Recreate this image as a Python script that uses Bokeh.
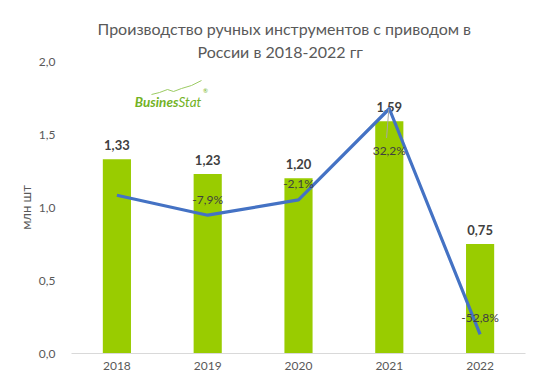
from bokeh.plotting import figure
from bokeh.models import Range1d, FixedTicker, Title, ColumnDataSource
from bokeh.core.properties import value
from bokeh.embed import file_html
from bokeh.resources import INLINE

# ---- data ----
years = ["2018", "2019", "2020", "2021", "2022"]
production = [1.33, 1.23, 1.20, 1.59, 0.75]          # млн шт
growth_pct = [-0.4, -7.9, -2.1, 32.2, -52.8]         # % к предыдущему году
growth_shown = [False, True, True, True, True]
y_ticks = [0.0, 0.5, 1.0, 1.5, 2.0]

FONT = "Lato"
TXT = "#404040"
AX = "#595959"

xs = [i + 0.5 for i in range(len(years))]

p = figure(width=540, height=384, output_backend="svg", toolbar_location=None,
           x_range=Range1d(0, len(years)), y_range=Range1d(0, 2.0),
           min_border_left=71, min_border_right=15, min_border_top=61,
           min_border_bottom=31)
p.extra_y_ranges = {"pct": Range1d(-60, 50)}
p.outline_line_color = None
p.xgrid.visible = False
p.ygrid.visible = False
p.background_fill_color = "white"
p.border_fill_color = "white"

# title (two lines)
p.title.text = "Производство ручных инструментов с приводом в"
p.title.align = "left"
p.title.text_font = FONT
p.title.text_font_size = "16px"
p.title.text_font_style = "normal"
p.title.text_color = AX
p.title.offset = 26
p.title.standoff = 2
t2 = Title(text="России в 2018-2022 гг", align="left",
           text_font=FONT, text_font_size="16px", text_font_style="normal",
           text_color=AX, offset=126, standoff=2)
p.add_layout(t2, "above")

# axes
p.yaxis.ticker = FixedTicker(ticks=y_ticks)
p.yaxis.major_label_overrides = {t: f"{t:.1f}".replace(".", ",") for t in y_ticks}
p.yaxis.axis_line_color = None
p.yaxis.major_tick_line_color = None
p.yaxis.minor_tick_line_color = None
p.yaxis.major_tick_out = 0
p.yaxis.major_label_standoff = 16
p.yaxis.major_label_text_font = FONT
p.yaxis.major_label_text_font_size = "12px"
p.yaxis.major_label_text_color = AX
p.yaxis.axis_label = "млн шт"
p.yaxis.axis_label_text_font = FONT
p.yaxis.axis_label_text_font_size = "13px"
p.yaxis.axis_label_text_font_style = "normal"
p.yaxis.axis_label_text_color = AX
p.yaxis.axis_label_standoff = 2

p.xaxis.ticker = FixedTicker(ticks=xs)
p.xaxis.major_label_overrides = {x: y for x, y in zip(xs, years)}
p.xaxis.axis_line_color = "#D9D9D9"
p.xaxis.axis_line_width = 1
p.xaxis.major_tick_line_color = None
p.xaxis.minor_tick_line_color = None
p.xaxis.major_tick_out = 0
p.xaxis.major_label_standoff = 8
p.xaxis.major_label_text_font = FONT
p.xaxis.major_label_text_font_size = "12px"
p.xaxis.major_label_text_color = AX

# bars
p.vbar(x=xs, top=production, width=0.31, fill_color="#99CC00", line_color=None)

# bar labels
bar_src = ColumnDataSource(dict(x=xs, y=production,
                                t=[f"{v:.2f}".replace(".", ",") for v in production]))
p.text(x="x", y="y", text="t", source=bar_src, text_align="center",
       text_baseline="middle", y_offset=-14, text_font=value(FONT),
       text_font_size="13px", text_font_style="bold", text_color=TXT)

# growth line (secondary hidden axis)
p.line(xs, growth_pct, y_range_name="pct", line_color="#4472C4", line_width=3.2,
       line_join="round")

# leader line for 2021 label
p.segment(x0=[xs[3] - 0.005], y0=[growth_pct[3]], x1=[xs[3] - 0.03],
          y1=[growth_pct[3] - 11], y_range_name="pct", line_color="#A6A6A6",
          line_width=1)

pct_offsets = [0, -16, -16, 42, -17]
px, py, pt, po = [], [], [], []
for x, v, s, o in zip(xs, growth_pct, growth_shown, pct_offsets):
    if s:
        px.append(x); py.append(v); po.append(o)
        pt.append(f"{v:.1f}".replace(".", ",") + "%")
pct_src = ColumnDataSource(dict(x=px, y=py, t=pt, o=po))
p.text(x="x", y="y", text="t", source=pct_src, y_range_name="pct",
       y_offset="o", text_align="center", text_baseline="middle",
       text_font=value(FONT), text_font_size="12px", text_color=TXT)

# BusinesStat logo
LOGO = "#72B224"
LX = 1.178
p.text(x=[LX], y=[1.721], text=["Busines"], text_align="right",
       text_baseline="alphabetic", text_font=value(FONT), text_font_size="13.5px",
       text_font_style="bold italic", text_color=LOGO)
p.text(x=[LX], y=[1.721], text=["Stat"], text_align="left",
       text_baseline="alphabetic", text_font=value(FONT), text_font_size="13.5px",
       text_font_style="italic", text_color=LOGO)
p.text(x=[LX + 0.27], y=[1.80], text=["®"], text_align="left",
       text_baseline="middle", text_font=value(FONT), text_font_size="6px",
       text_color=LOGO)
sw_x = [(v - 72) / 90.8 for v in [152, 160, 168, 174, 182, 192, 202]]
sw_y = [(354 - v) / 146 for v in [95, 93, 90, 92, 89, 86, 81]]
p.line(sw_x, sw_y, line_color="#9CCB63", line_width=1)

open("out.html", "w").write(file_html(p, INLINE))
